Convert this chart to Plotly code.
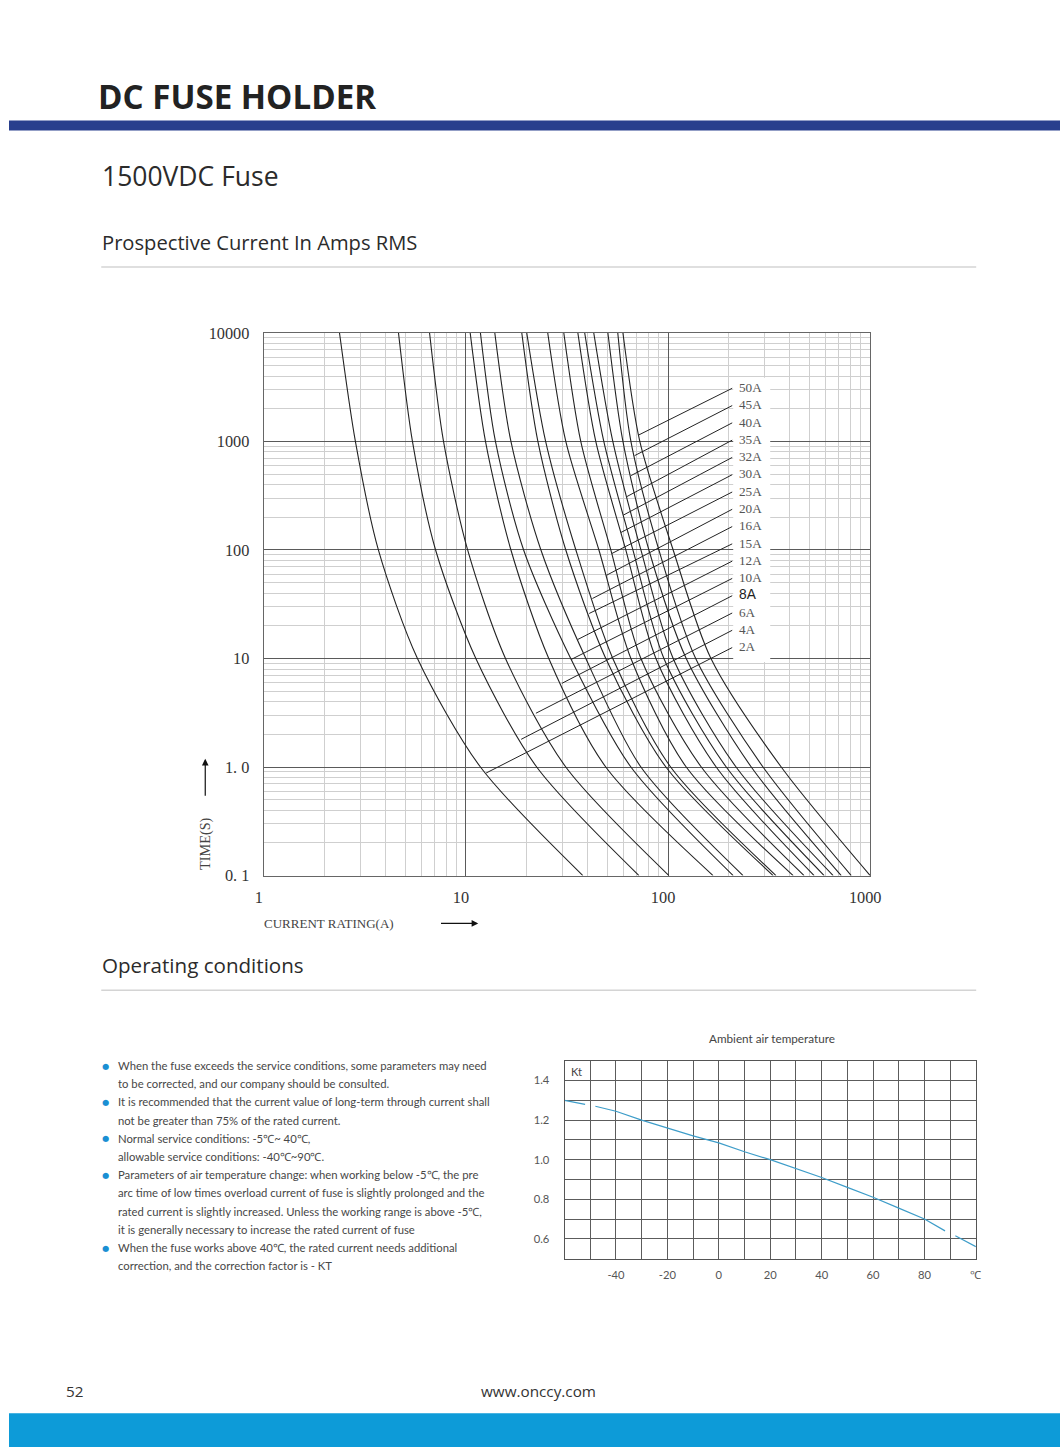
import numpy as np
import plotly.graph_objects as go

W, H = 1076, 1457

# ---------------- data: time-current curves (current in A at each time) ----------------
ratings = ["2A", "4A", "6A", "8A", "10A", "12A", "15A", "16A",
           "20A", "25A", "30A", "32A", "35A", "40A", "45A", "50A"]
curve_times = [10000, 1000, 100, 10, 1, 0.1]
i_2A = [2.37, 2.84, 3.69, 5.76, 11.8, 37.9]
i_4A = [4.64, 5.44, 7.08, 11.2, 22.4, 71.8]
i_6A = [6.61, 7.75, 10.2, 15.7, 31.2, 101]
i_8A = [10.5, 12.5, 16.7, 25.7, 49.2, 167]
i_10A = [11.8, 14.0, 19.3, 33.0, 65.5, 210]
i_12A = [13.9, 16.7, 23.5, 39.2, 73.4, 235]
i_15A = [18.9, 22.7, 31.2, 49.2, 97.6, 331]
i_16A = [20.0, 24.8, 35.0, 53.3, 103, 342]
i_20A = [25.4, 31.2, 45.5, 65.5, 123, 416]
i_25A = [30.5, 37.0, 52.1, 73.4, 146, 471]
i_30A = [35.8, 43.9, 61.8, 87.1, 173, 528]
i_32A = [38.7, 48.1, 67.0, 95.4, 194, 592]
i_35A = [42.9, 53.3, 73.4, 106, 217, 656]
i_40A = [50.4, 59.8, 80.4, 123, 258, 719]
i_45A = [56.4, 65.5, 90.1, 137, 295, 806]
i_50A = [59.8, 72.5, 106, 163, 363, 1000]
curve_currents = [i_2A, i_4A, i_6A, i_8A, i_10A, i_12A, i_15A, i_16A,
                  i_20A, i_25A, i_30A, i_32A, i_35A, i_40A, i_45A, i_50A]
# time (s) on each curve where the label leader line touches it
leader_time = [0.88, 1.8, 3.13, 5.9, 9.8, 15.0, 26.0, 35.7,
               58.4, 92.7, 145, 210, 311, 485, 740, 1148]

x_ticks = [1, 10, 100, 1000]
x_ticktext = ["1", "10", "100", "1000"]
y_ticks = [0.1, 1, 10, 100, 1000, 10000]
y_ticktext = ["0. 1", "1. 0", "10", "100", "1000", "10000"]

# ---------------- data: temperature correction factor ----------------
temp_c = [-60, -52, None, -48, -40, -30, -20, -10, 0, 10, 20, 30, 40, 50, 60, 70, 80, 88, None, 92, 100]
kt = [1.30, 1.28, None, 1.27, 1.245, 1.20, 1.16, 1.12, 1.085, 1.04, 1.00, 0.955, 0.91, 0.86, 0.81, 0.755, 0.70, 0.64, None, 0.615, 0.56]
kt_xticks = [-40, -20, 0, 20, 40, 60, 80, 100]
kt_xticktext = ["-40", "-20", "0", "20", "40", "60", "80", "℃"]
kt_yticks = [0.6, 0.8, 1.0, 1.2, 1.4]
kt_yticktext = ["0.6", "0.8", "1.0", "1.2", "1.4"]

bullet_lines = [
    (True, "When the fuse exceeds the service conditions, some parameters may need"),
    (False, "to be corrected, and our company should be consulted."),
    (True, "It is recommended that the current value of long-term through current shall"),
    (False, "not be greater than 75% of the rated current."),
    (True, "Normal service conditions: -5℃~ 40℃,"),
    (False, "allowable service conditions: -40℃~90℃."),
    (True, "Parameters of air temperature change: when working below -5℃, the pre"),
    (False, "arc time of low times overload current of fuse is slightly prolonged and the"),
    (False, "rated current is slightly increased. Unless the working range is above -5℃,"),
    (False, "it is generally necessary to increase the rated current of fuse"),
    (True, "When the fuse works above 40℃, the rated current needs additional"),
    (False, "correction, and the correction factor is - KT"),
]

# ---------------- layout helpers ----------------
# page (target picture) pixel -> figure pixel (compensates the capture scaling)
SCX, SCY, OFX, OFY = 0.98148, 0.98947, 8.9, 7.33

def fx(X):
    return X / SCX - OFX

def fy(Y):
    return Y / SCY - OFY

def px(X):
    return fx(X) / W

def py(Y):
    return 1 - fy(Y) / H

def fs(s):
    return s / SCX

# main plot area in page pixels
MX0, MX1, MY0, MY1 = 263.5, 870, 332, 876
# small plot area
SX0, SX1, SY0, SY1 = 564.3, 975.7, 1061.7, 1260

def px_to_current(xp):
    return 10 ** (3 * (xp - MX0) / (MX1 - MX0))

def py_to_time(yp):
    return 10 ** (-1 + 5 * (MY1 - yp) / (MY1 - MY0))

fig = go.Figure()

CURVE_COLOR = "#232323"
SERIF = "Liberation Serif"
SANS = "Lato"

# fuse curves
for name, cur in zip(ratings, curve_currents):
    fig.add_trace(go.Scatter(
        x=cur, y=curve_times, mode="lines", name=name,
        line=dict(color=CURVE_COLOR, width=1.1, shape="spline", smoothing=0.8),
        xaxis="x", yaxis="y", showlegend=False, hoverinfo="skip"))

# leader lines and labels
label_y0, label_step = 386.7, 17.33
leader_x_end = px_to_current(732)
annotations = []
n = len(ratings)
for k, (name, cur, lt) in enumerate(zip(ratings, curve_currents, leader_time)):
    logt = np.log10(curve_times)[::-1]
    logi = np.log10(cur)[::-1]
    anchor_i = 10 ** np.interp(np.log10(lt), logt, logi)
    label_py = label_y0 + (n - 1 - k) * label_step
    label_t = py_to_time(label_py + 0.8)
    fig.add_trace(go.Scatter(
        x=[anchor_i, leader_x_end], y=[lt, label_t], mode="lines",
        line=dict(color=CURVE_COLOR, width=1), xaxis="x", yaxis="y",
        showlegend=False, hoverinfo="skip"))
    is8 = name == "8A"
    annotations.append(dict(
        x=px(737), y=py(label_py), xref="paper", yref="paper", xanchor="left", yanchor="middle",
        text=name, showarrow=False,
        font=dict(family="Liberation Sans" if is8 else SERIF, size=fs(13.5 if is8 else 13),
                  color="#222" if is8 else "#555")))

# correction factor curve
fig.add_trace(go.Scatter(
    x=temp_c, y=kt, mode="lines", line=dict(color="#3e9dc9", width=1.2),
    connectgaps=False, xaxis="x2", yaxis="y2", showlegend=False, hoverinfo="skip"))

minor_x = [m * 10 ** d for d in range(0, 3) for m in range(2, 10)]
minor_y = [m * 10 ** d for d in range(-1, 4) for m in range(2, 10)]

fig.update_layout(
    width=W, height=H, margin=dict(l=0, r=0, t=0, b=0),
    paper_bgcolor="white", plot_bgcolor="white",
    xaxis=dict(type="log", range=[0, 3], domain=[px(MX0), px(MX1)], anchor="y",
               tickvals=x_ticks, ticktext=x_ticktext, showgrid=True, gridcolor="#5a5a5a", gridwidth=1,
               minor=dict(tickvals=minor_x, showgrid=True, gridcolor="#cfcfcf", gridwidth=1, ticks=""),
               showline=True, linecolor="#666", linewidth=1.2, mirror=True, ticks="",
               zeroline=False, tickfont=dict(family=SERIF, size=fs(16), color="#333"),
               ticklabelstandoff=7, ticklabelshift=-5),
    yaxis=dict(type="log", range=[-1, 4], domain=[py(MY1), py(MY0)], anchor="x",
               tickvals=y_ticks, ticktext=y_ticktext, showgrid=True, gridcolor="#5a5a5a", gridwidth=1,
               minor=dict(tickvals=minor_y, showgrid=True, gridcolor="#cfcfcf", gridwidth=1, ticks=""),
               showline=True, linecolor="#666", linewidth=1.2, mirror=True, ticks="",
               zeroline=False, tickfont=dict(family=SERIF, size=fs(16), color="#333"),
               ticklabelstandoff=10),
    xaxis2=dict(range=[-60, 100], domain=[px(SX0), px(SX1)], anchor="y2",
                tickvals=kt_xticks, ticktext=kt_xticktext, showgrid=True, gridcolor="#5c5c5c",
                minor=dict(dtick=10, tick0=0, showgrid=True, gridcolor="#5c5c5c", ticks=""),
                showline=True, linecolor="#555", mirror=True, ticks="", zeroline=False,
                tickfont=dict(family=SANS, size=fs(11), color="#555"), ticklabelstandoff=6),
    yaxis2=dict(range=[0.5, 1.5], domain=[py(SY1), py(SY0)], anchor="x2",
                tickvals=kt_yticks, ticktext=kt_yticktext, showgrid=True, gridcolor="#5c5c5c",
                minor=dict(dtick=0.1, tick0=0, showgrid=True, gridcolor="#5c5c5c", ticks=""),
                showline=True, linecolor="#555", mirror=True, ticks="", zeroline=False,
                tickfont=dict(family=SANS, size=fs(11), color="#555"), ticklabelstandoff=12),
)

shapes = [
    # navy header bar
    dict(type="rect", xref="paper", yref="paper", x0=0, x1=1, y0=py(129), y1=py(119),
         fillcolor="#293f8d", line=dict(width=0), layer="above"),
    # bottom blue bar
    dict(type="rect", xref="paper", yref="paper", x0=0, x1=1, y0=0, y1=py(1415),
         fillcolor="#0d9bd8", line=dict(width=0), layer="above"),
    # separators
    dict(type="line", xref="paper", yref="paper", x0=px(101), x1=px(976), y0=py(266), y1=py(266),
         line=dict(color="#d4d4d4", width=1.5)),
    dict(type="line", xref="paper", yref="paper", x0=px(101), x1=px(976), y0=py(991), y1=py(991),
         line=dict(color="#d4d4d4", width=1.5)),
    # white panel behind fuse labels
    dict(type="rect", xref="paper", yref="paper", x0=px(733), x1=px(770), y0=py(662), y1=py(377),
         fillcolor="white", line=dict(width=0), layer="above"),
]
fig.update_layout(shapes=shapes)

TXT = "#2b2b2b"
annotations += [
    dict(x=px(96), y=py(95), text="<b>DC FUSE HOLDER</b>", font=dict(family="Open Sans", size=fs(32.5), color="#222")),
    dict(x=px(100), y=py(175), text="1500VDC Fuse", font=dict(family="Open Sans", size=fs(26), color=TXT)),
    dict(x=px(100), y=py(241), text="Prospective Current In Amps RMS", font=dict(family="Open Sans", size=fs(19.8), color=TXT)),
    dict(x=px(100), y=py(966), text="Operating conditions", font=dict(family="Open Sans", size=fs(20.2), color=TXT)),
    dict(x=px(64), y=py(1393), text="52", font=dict(family="Open Sans", size=fs(15), color="#333")),
    dict(x=px(538), y=py(1393), text="www.onccy.com", font=dict(family="Open Sans", size=fs(15), color="#333"),
         xanchor="center"),
    dict(x=px(772), y=py(1039), text="Ambient air temperature", font=dict(family=SANS, size=fs(11.5), color="#444"),
         xanchor="center"),
    dict(x=px(569), y=py(1072), text="Kt", font=dict(family=SANS, size=fs(11), color="#444")),
    dict(x=px(262), y=py(924), text="CURRENT RATING(A)", font=dict(family=SERIF, size=fs(12.8), color="#444")),
    dict(x=px(205), y=py(844), text="TIME(S)", textangle=-90, font=dict(family=SERIF, size=fs(14), color="#444"),
         xanchor="center"),
]
for a in annotations:
    a.setdefault("xref", "paper")
    a.setdefault("yref", "paper")
    a.setdefault("showarrow", False)
    a.setdefault("xanchor", "left")
    a.setdefault("yanchor", "middle")

# axis arrows
annotations += [
    dict(x=px(478), y=py(924), ax=-38 / SCX, ay=0, xref="paper", yref="paper", axref="pixel", ayref="pixel",
         text="", showarrow=True, arrowhead=2, arrowsize=1.1, arrowwidth=1.2, arrowcolor="#111"),
    dict(x=px(205), y=py(759), ax=0, ay=38 / SCY, xref="paper", yref="paper", axref="pixel", ayref="pixel",
         text="", showarrow=True, arrowhead=2, arrowsize=1.1, arrowwidth=1.2, arrowcolor="#111"),
]

# bullet text
line_y0, line_step = 1066.5, 18.25
for j, (has_bullet, txt) in enumerate(bullet_lines):
    yy = py(line_y0 + j * line_step)
    if has_bullet:
        annotations.append(dict(x=px(105), y=yy, xref="paper", yref="paper", text="●", showarrow=False,
                                xanchor="center", yanchor="middle",
                                font=dict(family="DejaVu Sans", size=fs(8), color="#1a8fd3")))
    annotations.append(dict(x=px(116), y=yy, xref="paper", yref="paper", text=txt, showarrow=False,
                            xanchor="left", yanchor="middle",
                            font=dict(family=SANS, size=fs(11.1), color="#474747")))

fig.update_layout(annotations=annotations)

fig.write_html(
    "out.html",
    config={"displayModeBar": False},
    post_script="document.body.style.margin='0';document.body.style.padding='0';"
                "document.documentElement.style.overflow='hidden';document.body.style.overflow='hidden';",
)
